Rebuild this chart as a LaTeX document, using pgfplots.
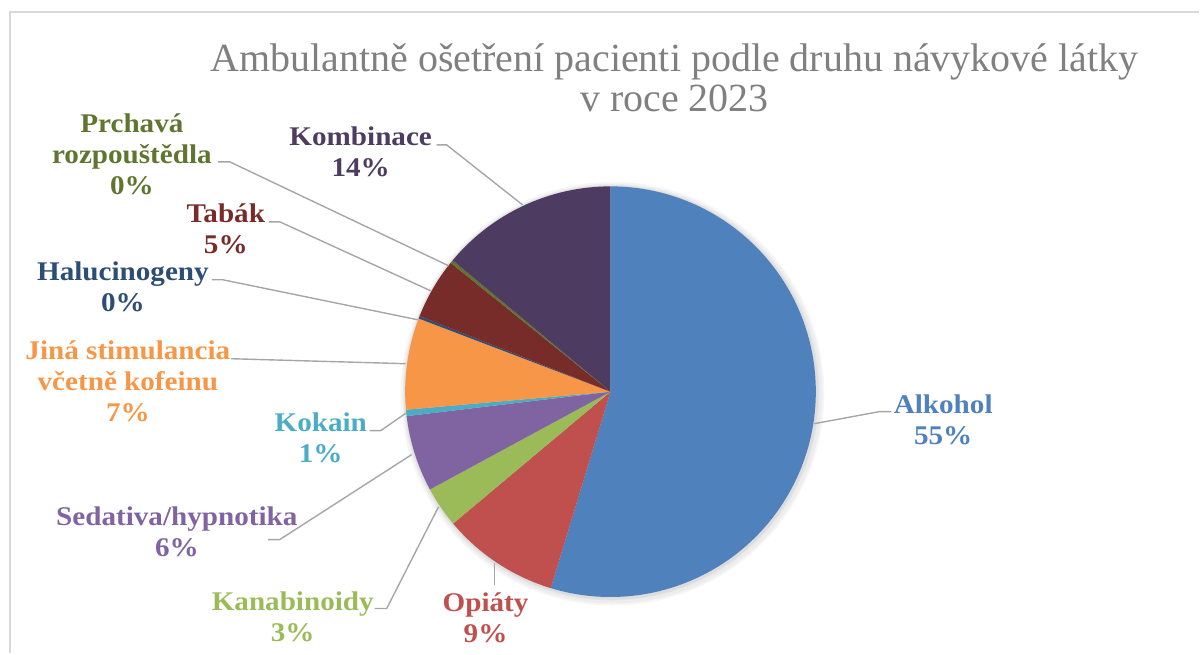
\documentclass[border=0pt]{standalone}
\usepackage{fontspec}
\usepackage{pgfplots}
\pgfplotsset{compat=1.18}
\setmainfont{Liberation Serif}
\newfontfamily\titlefont{Liberation Serif}
\newfontfamily\labelfont{Liberation Serif}[FakeStretch=1.08]
\definecolor{cAlk}{HTML}{4F81BD}
\definecolor{cOpi}{HTML}{C0504D}
\definecolor{cKan}{HTML}{9BBB59}
\definecolor{cSed}{HTML}{8064A2}
\definecolor{cKok}{HTML}{4BACC6}
\definecolor{cJin}{HTML}{F79646}
\definecolor{cHal}{HTML}{2C4D75}
\definecolor{cTab}{HTML}{772C2A}
\definecolor{cPrc}{HTML}{5F7530}
\definecolor{cKom}{HTML}{4D3B62}
\definecolor{lead}{HTML}{A6A6A6}
\definecolor{frame}{HTML}{D9D9D9}
\definecolor{tgray}{HTML}{808080}
\tikzset{
  lbl/.style={font=\labelfont\bfseries\fontsize{13.5}{15.5}\selectfont, align=center, inner sep=0pt},
  ld/.style={draw=lead, line width=0.7pt}}
% slice: start (cumulative %), share (%), colour
\newcommand\slice[3]{%
  \fill[#3] (axis cs:611,392) -- ++({90-3.6*#1}:102.75pt)
    arc[start angle={90-3.6*#1}, delta angle={-3.6*#2}, radius=102.75pt] -- cycle;}
\begin{document}
\begin{tikzpicture}
\begin{axis}[
  hide axis, scale only axis, width=600pt, height=327pt,
  xmin=0, xmax=1200, ymin=0, ymax=654, y dir=reverse, clip=false]
\path (axis cs:0,0) rectangle (axis cs:1200,654);
\draw[frame, line width=1pt] (axis cs:10,654) -- (axis cs:10,12) -- (axis cs:1200,12);
% title
\node[font=\titlefont\fontsize{20}{20}\selectfont, text=tgray, align=center, inner sep=0pt]
  at (axis cs:675,78) {Ambulantně ošetření pacienti podle druhu návykové látky\\v roce 2023};
% soft shadow
\fill[black, opacity=0.035] (axis cs:613,394) circle[radius=106pt];
\fill[black, opacity=0.035] (axis cs:613,394) circle[radius=105pt];
\fill[black, opacity=0.035] (axis cs:612,393) circle[radius=104pt];
\fill[black, opacity=0.035] (axis cs:612,393) circle[radius=103.5pt];
% slices
\slice{0}{54.7}{cAlk}
\slice{54.7}{9.2}{cOpi}
\slice{63.9}{3.2}{cKan}
\slice{67.1}{6.0}{cSed}
\slice{73.1}{0.5}{cKok}
\slice{73.6}{7.2}{cJin}
\slice{80.8}{0.2}{cHal}
\slice{81.0}{4.8}{cTab}
\slice{85.8}{0.25}{cPrc}
\slice{86.05}{13.95}{cKom}
% leader lines
\draw[ld] (axis cs:218,162) -- (axis cs:230,162) -- (axis cs:449,266);
\draw[ld] (axis cs:269,222) -- (axis cs:280,222) -- (axis cs:431,291);
\draw[ld] (axis cs:212,280) -- (axis cs:223,280) -- (axis cs:418,320);
\draw[ld] (axis cs:231,359) -- (axis cs:406,364);
\draw[ld] (axis cs:370,431) -- (axis cs:381,431) -- (axis cs:407,413);
\draw[ld] (axis cs:268,540) -- (axis cs:280,540) -- (axis cs:412,455);
\draw[ld] (axis cs:375,609) -- (axis cs:387,609) -- (axis cs:439,507);
\draw[ld] (axis cs:495,563) -- (axis cs:495,585);
\draw[ld] (axis cs:892,412) -- (axis cs:880,412) -- (axis cs:815,424);
\draw[ld] (axis cs:437,145) -- (axis cs:447,145) -- (axis cs:523,205);
% labels
\node[lbl, text=cPrc] at (axis cs:132,154) {Prchavá\\rozpouštědla\\0\%};
\node[lbl, text=cTab] at (axis cs:226,229) {Tabák\\5\%};
\node[lbl, text=cHal] at (axis cs:123,287) {Halucinogeny\\0\%};
\node[lbl, text=cJin] at (axis cs:128,382) {Jiná stimulancia\\včetně kofeinu\\7\%};
\node[lbl, text=cKok] at (axis cs:321,438) {Kokain\\1\%};
\node[lbl, text=cSed] at (axis cs:177,532) {Sedativa/hypnotika\\6\%};
\node[lbl, text=cKan] at (axis cs:293,617) {Kanabinoidy\\3\%};
\node[lbl, text=cOpi] at (axis cs:486,618) {Opiáty\\9\%};
\node[lbl, text=cAlk] at (axis cs:944,420) {Alkohol\\55\%};
\node[lbl, text=cKom] at (axis cs:361,152) {Kombinace\\14\%};
\end{axis}
\end{tikzpicture}
\end{document}
